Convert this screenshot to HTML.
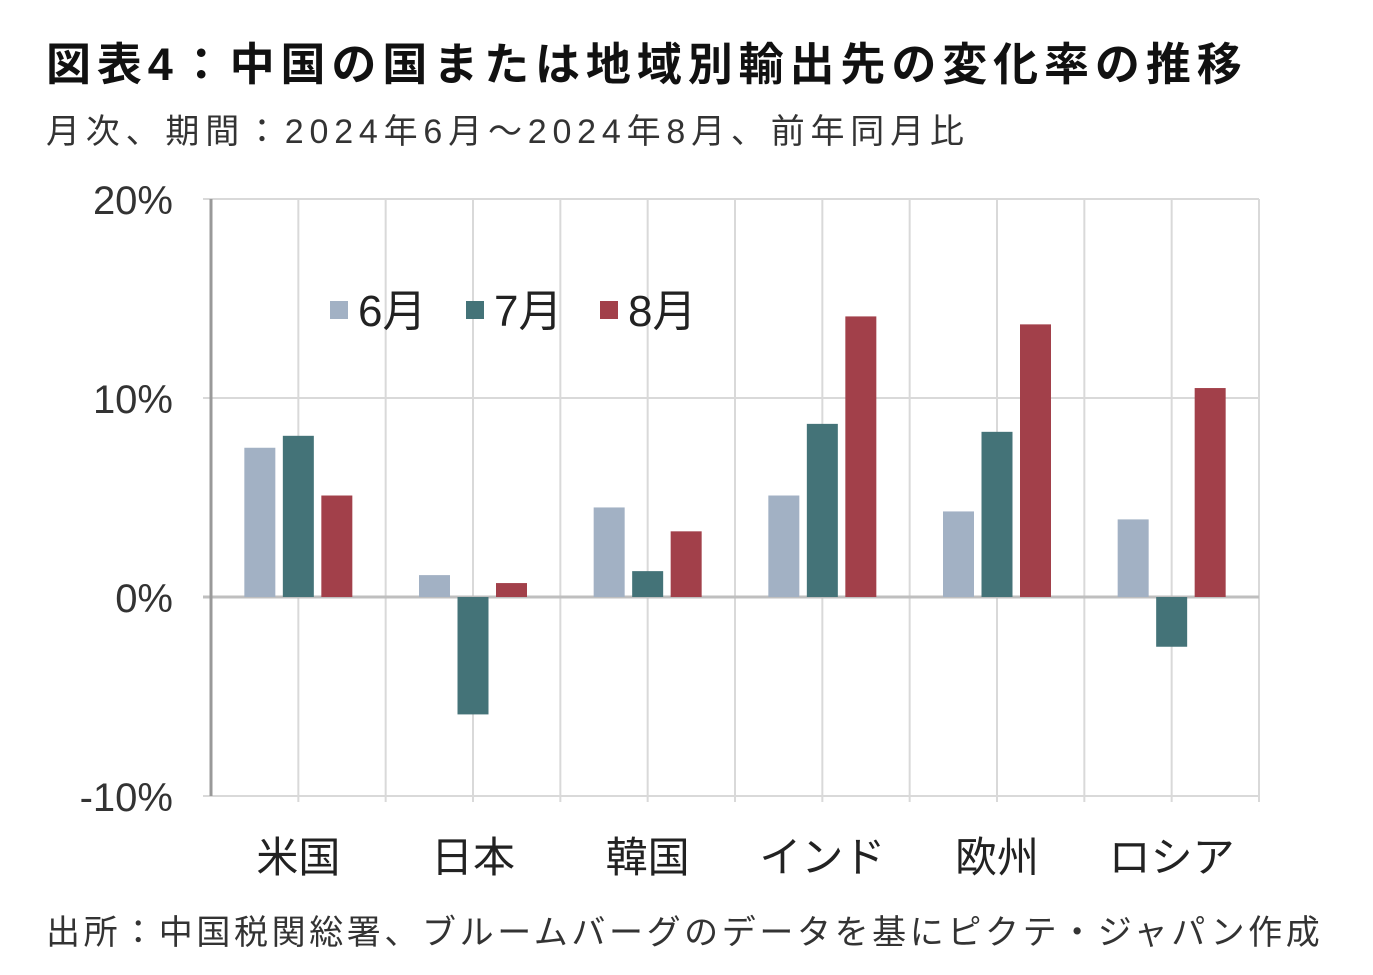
<!DOCTYPE html>
<html><head><meta charset="utf-8"><style>
body{margin:0;background:#fff;width:1373px;height:975px;overflow:hidden;font-family:"Liberation Sans","Noto Sans CJK JP",sans-serif;}
.t{position:absolute;white-space:nowrap;color:#111;}
</style></head><body>
<div class="t" style="left:46px;top:28px;font-size:45px;font-weight:bold;letter-spacing:5.9px;">図表4：中国の国または地域別輸出先の変化率の推移</div>
<div class="t" style="left:46px;top:104px;font-size:34px;color:#333;letter-spacing:5.8px;">月次、期間：2024年6月～2024年8月、前年同月比</div>
<div class="t" style="left:46px;top:905px;font-size:34px;color:#333;letter-spacing:3.6px;">出所：中国税関総署、ブルームバーグのデータを基にピクテ・ジャパン作成</div>
<svg id="c" width="1373" height="975" style="position:absolute;left:0;top:0"></svg>
<script>
const categories=["米国","日本","韓国","インド","欧州","ロシア"];
const seriesNames=["6月","7月","8月"];
const jun=[7.5,1.1,4.5,5.1,4.3,3.9];
const jul=[8.1,-5.9,1.3,8.7,8.3,-2.5];
const aug=[5.1,0.7,3.3,14.1,13.7,10.5];
const yTicks=[20,10,0,-10];
const colors=["#a2b1c4","#447378","#a2404a"];
const series=[jun,jul,aug];
const NS="http://www.w3.org/2000/svg";
const svg=document.getElementById('c');
const x0=211,x1=1259,yTop=199,yBot=796,vMin=-10,vMax=20;
const y=v=>yTop+(vMax-v)/(vMax-vMin)*(yBot-yTop);
const band=(x1-x0)/categories.length;
const xc=i=>x0+band*(i+0.5);
function mk(t,a){const e=document.createElementNS(NS,t);for(const k in a)e.setAttribute(k,a[k]);svg.appendChild(e);return e;}
for(let k=1;k<=categories.length*2;k++){const gx=x0+band/2*k;
const g=mk('line',{x1:gx,x2:gx,y1:yTop,y2:yBot+6,stroke:'#d9d9d9','stroke-width':2});

}
yTicks.forEach(v=>{const l=mk('line',{x1:x0-8,x2:x1,y1:y(v),y2:y(v),stroke:v===0?'#bfbfbf':'#d9d9d9','stroke-width':v===0?3:2});


const t=mk('text',{x:x0-38,y:y(v)+15,'text-anchor':'end','font-size':40,fill:'#333'});t.textContent=v+'%';

});
const ax=mk('line',{x1:x0,x2:x0,y1:yTop,y2:yBot,stroke:'#999','stroke-width':3});


const bw=31,gap=38.5;
categories.forEach((c,i)=>{
series.forEach((s,j)=>{const cx=xc(i)+(j-1)*gap;const v=s[i];
const r=mk('rect',{x:cx-bw/2,y:Math.min(y(v),y(0)),width:bw,height:Math.abs(y(v)-y(0)),fill:colors[j]});

});
const t=mk('text',{x:xc(i),y:872,'text-anchor':'middle','font-size':42,fill:'#222'});t.textContent=c;

});
const lx=[330,466,600];
seriesNames.forEach((n,j)=>{const r=mk('rect',{x:lx[j],y:301,width:18,height:18,fill:colors[j]});


const t=mk('text',{x:lx[j]+28,y:326,'font-size':44,fill:'#222'});t.textContent=n;

});
</script>
</body></html>
